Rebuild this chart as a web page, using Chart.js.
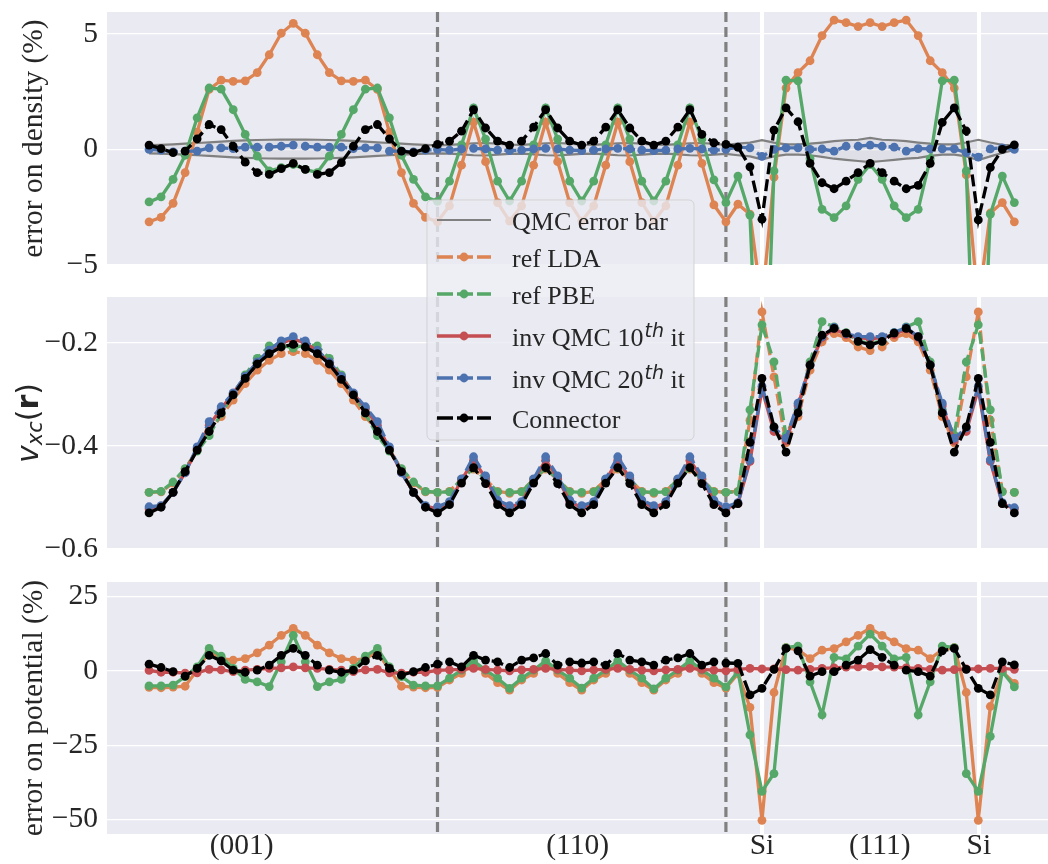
<!DOCTYPE html>
<html>
<head>
<meta charset="utf-8">
<script src="https://cdn.jsdelivr.net/npm/chart.js@4.4.1/dist/chart.umd.min.js"></script>
<style>
  html, body { margin: 0; padding: 0; background: #fff; overflow: hidden; }
  #wrap { position: relative; width: 1048px; height: 864px; }
  #wrap canvas { position: absolute; left: 0; top: 0; width: 1048px; height: 864px; }
</style>
</head>
<body>
<div id="wrap">
  <canvas id="density" width="1048" height="864"></canvas>
  <canvas id="potential" width="1048" height="864"></canvas>
  <canvas id="vxc" width="1048" height="864"></canvas>
</div>
<script>
// sample index along the path (001) -> (110) -> (111)
const pathIndex = Array.from({ length: 73 }, (_, i) => i);
const segmentEdges = [24, 48];

const xTickPos = [7.7, 35.66, 51.0, 60.8, 69.05];
const xTickLabels = ['(001)', '(110)', 'Si', '(111)', 'Si'];
const siTickPos = [51.0, 69.05];

const densTicks = [5, 0, -5];
const vxcTicks = [-0.2, -0.4, -0.6];
const potTicks = [25, 0, -25, -50];

// error on density (%)
const qmcUpper = [
  0.19, 0.20, 0.22, 0.25, 0.28, 0.31, 0.34, 0.37, 0.39, 0.41, 0.42, 0.43, 0.43, 0.43, 0.42, 0.41, 0.39, 0.37, 0.34, 0.31, 0.28, 0.25, 0.22, 0.20, 0.18,
  0.20, 0.23, 0.27, 0.28, 0.25, 0.21, 0.20, 0.23, 0.27, 0.28, 0.25, 0.21, 0.20, 0.23, 0.27, 0.28, 0.25, 0.21, 0.20, 0.23, 0.27, 0.28, 0.24, 0.20,
  0.25, 0.30, 0.40, 0.30, 0.22, 0.22, 0.25, 0.30, 0.36, 0.40, 0.42, 0.50, 0.42, 0.40, 0.36, 0.30, 0.25, 0.22, 0.22, 0.30, 0.42, 0.30, 0.20, 0.18
];
const qmcLower = [
  -0.17, -0.18, -0.20, -0.22, -0.25, -0.28, -0.31, -0.34, -0.36, -0.38, -0.39, -0.40, -0.40, -0.40, -0.39, -0.38, -0.36, -0.34, -0.31, -0.28, -0.25, -0.22, -0.20, -0.18, -0.17,
  -0.18, -0.21, -0.25, -0.26, -0.22, -0.19, -0.18, -0.21, -0.25, -0.26, -0.22, -0.19, -0.18, -0.21, -0.25, -0.26, -0.22, -0.19, -0.18, -0.21, -0.25, -0.26, -0.22, -0.19,
  -0.25, -0.30, -0.43, -0.30, -0.22, -0.22, -0.25, -0.32, -0.40, -0.45, -0.50, -0.55, -0.50, -0.45, -0.40, -0.36, -0.28, -0.22, -0.22, -0.30, -0.46, -0.30, -0.15, -0.02
];
const densLDA = [
  -3.13, -2.94, -2.33, -1.00, 0.75, 2.60, 3.00, 2.95, 2.97, 3.33, 4.10, 5.03, 5.46, 5.03, 4.10, 3.33, 2.97, 2.95, 3.00, 2.60, 0.75, -1.00, -2.33, -2.94, -3.13,
  -2.44, -0.68, 1.18, -0.53, -2.30, -3.10, -2.44, -0.68, 1.18, -0.53, -2.30, -3.10, -2.44, -0.68, 1.18, -0.53, -2.30, -3.10, -2.44, -0.68, 1.18, -0.60, -2.40, -3.13,
  -2.37, -2.80, -6.70, -1.20, 2.66, 3.33, 3.84, 4.93, 5.60, 5.49, 5.32, 5.49, 5.32, 5.49, 5.60, 4.93, 3.84, 3.33, 2.66, -1.10, -6.70, -2.75, -2.30, -3.13
];
const densPBE = [
  -2.27, -2.05, -1.29, -0.25, 1.37, 2.66, 2.61, 1.72, 0.65, -0.29, -0.93, -0.79, -0.65, -0.86, -1.00, -0.29, 0.65, 1.72, 2.61, 2.66, 1.37, -0.25, -1.29, -2.05, -2.25,
  -1.37, 0.20, 1.80, 0.45, -1.37, -2.23, -1.37, 0.20, 1.80, 0.45, -1.37, -2.23, -1.37, 0.20, 1.80, 0.45, -1.37, -2.23, -1.37, 0.20, 1.80, 0.45, -1.32, -2.30,
  -1.15, -2.84, -15.0, -0.93, 3.00, 2.97, -0.40, -2.59, -2.95, -2.44, -1.29, -0.65, -1.29, -2.44, -2.95, -2.59, -0.40, 2.97, 3.00, -0.93, -15.0, -2.80, -1.15, -2.30
];
const densInv20 = [
  0.00, -0.03, -0.10, -0.07, -0.07, 0.07, 0.07, 0.04, 0.10, 0.10, 0.10, 0.14, 0.19, 0.14, 0.10, 0.10, 0.10, 0.04, 0.07, 0.07, -0.07, -0.07, -0.10, -0.03, 0.00,
  -0.03, 0.02, 0.05, 0.02, -0.03, -0.05, -0.03, 0.02, 0.05, 0.02, -0.03, -0.05, -0.03, 0.02, 0.05, 0.02, -0.03, -0.05, -0.03, 0.02, 0.05, 0.02, -0.03, 0.00,
  0.10, 0.07, -0.30, 0.00, 0.07, 0.07, 0.00, 0.02, -0.07, 0.14, 0.14, 0.19, 0.14, 0.10, -0.07, 0.04, 0.03, 0.03, 0.03, -0.14, -0.33, 0.03, 0.07, 0.00
];
const densConn = [
  0.19, 0.04, -0.14, -0.07, 0.46, 1.08, 0.86, 0.14, -0.55, -1.00, -1.08, -0.83, -0.60, -0.86, -1.08, -1.00, -0.57, 0.14, 0.86, 1.08, 0.46, -0.07, -0.14, 0.04, 0.22,
  0.36, 0.79, 1.72, 0.93, 0.36, 0.19, 0.36, 0.97, 1.72, 0.93, 0.36, 0.19, 0.36, 0.97, 1.72, 0.93, 0.36, 0.19, 0.36, 0.97, 1.72, 0.65, 0.29, 0.22,
  0.10, -0.75, -3.02, 0.84, 1.80, 1.20, -0.60, -1.44, -1.70, -1.37, -1.00, -0.60, -1.00, -1.37, -1.70, -1.55, -0.60, 1.17, 1.80, 0.80, -3.05, -0.78, 0.00, 0.20
];

// v_xc(r)
const vxcLDA = [
  -0.490, -0.489, -0.472, -0.445, -0.408, -0.370, -0.343, -0.311, -0.279, -0.253, -0.234, -0.221, -0.217, -0.221, -0.234, -0.253, -0.279, -0.311, -0.343, -0.370, -0.408, -0.445, -0.472, -0.489, -0.490,
  -0.488, -0.465, -0.445, -0.465, -0.488, -0.492, -0.488, -0.465, -0.445, -0.465, -0.488, -0.492, -0.488, -0.465, -0.445, -0.465, -0.488, -0.492, -0.488, -0.465, -0.445, -0.465, -0.488, -0.490,
  -0.488, -0.350, -0.140, -0.266, -0.394, -0.343, -0.253, -0.198, -0.182, -0.190, -0.208, -0.215, -0.208, -0.190, -0.182, -0.198, -0.253, -0.343, -0.394, -0.266, -0.140, -0.350, -0.488, -0.490
];
const vxcPBE = [
  -0.490, -0.488, -0.470, -0.444, -0.410, -0.380, -0.337, -0.300, -0.262, -0.230, -0.206, -0.204, -0.210, -0.204, -0.206, -0.230, -0.262, -0.300, -0.337, -0.380, -0.410, -0.444, -0.470, -0.488, -0.490,
  -0.489, -0.465, -0.443, -0.465, -0.489, -0.490, -0.489, -0.465, -0.443, -0.465, -0.489, -0.490, -0.489, -0.465, -0.443, -0.465, -0.489, -0.490, -0.489, -0.465, -0.443, -0.465, -0.489, -0.490,
  -0.489, -0.330, -0.165, -0.237, -0.379, -0.330, -0.237, -0.159, -0.169, -0.180, -0.197, -0.200, -0.197, -0.180, -0.169, -0.159, -0.237, -0.330, -0.379, -0.237, -0.165, -0.330, -0.489, -0.490
];
const vxcInv10 = [
  -0.522, -0.517, -0.490, -0.452, -0.405, -0.360, -0.328, -0.298, -0.266, -0.238, -0.216, -0.200, -0.193, -0.200, -0.216, -0.238, -0.266, -0.298, -0.328, -0.360, -0.405, -0.452, -0.490, -0.517, -0.522,
  -0.510, -0.466, -0.428, -0.462, -0.508, -0.520, -0.510, -0.466, -0.428, -0.462, -0.508, -0.520, -0.510, -0.466, -0.428, -0.462, -0.508, -0.520, -0.510, -0.466, -0.428, -0.462, -0.508, -0.522,
  -0.512, -0.430, -0.290, -0.372, -0.390, -0.322, -0.243, -0.190, -0.173, -0.184, -0.190, -0.192, -0.190, -0.184, -0.173, -0.190, -0.243, -0.322, -0.390, -0.372, -0.290, -0.430, -0.512, -0.522
];
const vxcInv20 = [
  -0.518, -0.516, -0.490, -0.452, -0.402, -0.353, -0.324, -0.297, -0.265, -0.237, -0.214, -0.196, -0.188, -0.196, -0.214, -0.237, -0.265, -0.297, -0.324, -0.353, -0.402, -0.452, -0.490, -0.516, -0.518,
  -0.508, -0.464, -0.421, -0.458, -0.505, -0.516, -0.508, -0.464, -0.421, -0.458, -0.505, -0.516, -0.508, -0.464, -0.421, -0.458, -0.505, -0.516, -0.508, -0.464, -0.421, -0.458, -0.505, -0.518,
  -0.510, -0.427, -0.284, -0.365, -0.385, -0.317, -0.243, -0.188, -0.170, -0.182, -0.188, -0.188, -0.188, -0.180, -0.170, -0.188, -0.243, -0.317, -0.385, -0.365, -0.284, -0.427, -0.510, -0.520
];
const vxcConn = [
  -0.530, -0.519, -0.490, -0.450, -0.408, -0.372, -0.336, -0.301, -0.269, -0.241, -0.221, -0.208, -0.203, -0.208, -0.221, -0.241, -0.271, -0.301, -0.336, -0.372, -0.408, -0.450, -0.490, -0.519, -0.530,
  -0.514, -0.472, -0.442, -0.473, -0.514, -0.530, -0.514, -0.472, -0.442, -0.473, -0.514, -0.530, -0.514, -0.472, -0.442, -0.473, -0.514, -0.530, -0.514, -0.472, -0.442, -0.473, -0.514, -0.530,
  -0.512, -0.393, -0.269, -0.363, -0.412, -0.336, -0.243, -0.185, -0.172, -0.181, -0.197, -0.204, -0.197, -0.181, -0.172, -0.188, -0.243, -0.336, -0.412, -0.363, -0.269, -0.393, -0.512, -0.530
];

// error on potential (%)
const potLDA = [
  -5.6, -5.7, -5.5, -5.2, 0.2, 6.4, 4.1, 3.6, 4.1, 6.0, 8.6, 11.9, 14.2, 11.9, 8.6, 6.0, 4.1, 3.6, 4.1, 6.4, 0.2, -5.2, -5.5, -5.7, -5.6,
  -3.1, -0.9, 2.5, -0.9, -4.0, -6.5, -3.1, -0.9, 2.5, -0.9, -4.0, -6.5, -3.1, -0.9, 2.5, -0.9, -4.0, -6.5, -3.1, -0.9, 2.5, -0.9, -4.0, -5.8,
  -1.0, -12.3, -50.2, -7.3, 7.8, 7.0, 4.1, 6.9, 7.4, 9.7, 11.9, 14.2, 11.9, 9.7, 7.4, 6.9, 4.1, 7.0, 7.8, -7.3, -50.2, -12.0, -0.3, -4.2
];
const potPBE = [
  -5.1, -5.1, -4.8, -2.0, 1.3, 7.5, 4.9, 0.8, -2.9, -3.7, -5.3, 3.0, 11.9, 3.0, -5.3, -3.7, -2.9, 0.8, 4.9, 7.5, 1.3, -2.0, -4.8, -5.1, -5.1,
  -2.5, 0.2, 3.3, 0.2, -2.5, -5.9, -2.5, 0.2, 3.3, 0.2, -2.5, -5.8, -2.5, 0.2, 3.3, 0.2, -2.5, -6.1, -2.5, 0.2, 3.3, 0.2, -2.5, -5.4,
  -0.3, -21.5, -40.5, -34.5, 7.8, 8.3, -3.7, -14.8, 4.5, 4.0, 8.3, 12.3, 8.3, 4.0, 4.5, -14.8, -3.7, 8.3, 7.8, -34.5, -40.5, -22.0, -0.3, -5.4
];
const potInv10 = [
  0.1, -0.5, -0.5, -0.8, -0.7, 0.5, 0.3, -0.3, 0.2, 0.5, 0.8, 1.0, 1.3, 1.0, 0.8, 0.5, 0.2, -0.3, 0.3, 0.5, -0.7, -0.8, -0.5, -0.5, 0.1,
  0.3, 0.5, 0.8, 0.5, 0.2, 0.0, 0.3, 0.5, 0.8, 0.5, 0.2, 0.0, 0.3, 0.5, 0.8, 0.5, 0.2, 0.0, 0.3, 0.5, 0.8, 0.5, 0.2, 0.0,
  0.5, 0.8, 0.6, 0.6, 0.4, 0.2, 0.5, 0.8, 1.0, 1.2, 1.3, 1.5, 1.3, 1.2, 1.0, 0.8, 0.5, 0.2, 0.4, 0.6, 0.6, 0.8, 0.8, 0.5
];
const potConn = [
  2.2, 1.1, -0.3, -1.8, 0.8, 5.2, 3.3, 0.2, -0.5, 0.2, 1.9, 5.2, 7.5, 5.2, 1.9, 0.2, -0.5, 0.2, 3.3, 5.2, 0.8, -1.5, -0.3, 1.1, 2.2,
  3.0, 1.3, 5.2, 3.6, 3.0, 1.1, 3.6, 4.3, 5.8, 1.9, 3.0, 2.6, 3.0, 1.9, 5.8, 3.6, 3.0, 1.9, 3.6, 4.3, 5.8, 1.9, 3.0, 2.6,
  2.5, -8.1, -5.9, 0.5, 7.5, 6.7, -1.8, -0.3, -0.3, 1.9, 3.6, 7.1, 4.5, 1.9, 0.2, -0.3, -1.8, 6.7, 7.5, 0.5, -5.9, -8.1, 3.0, 2.0
];

const COLORS = { qmc: '#808080', lda: '#DD8452', pbe: '#55A868', inv10: '#C44E52', inv20: '#4C72B0', conn: '#000000' };
const SERIF = '"Liberation Serif", "DejaVu Serif", serif';
const TEXT = '#262626';
const DASH = [12, 5];

function series(values, color, dashed, order, extra) {
  return Object.assign({
    data: values.map((v, i) => ({ x: pathIndex[i], y: v })),
    borderColor: color,
    backgroundColor: color,
    pointBackgroundColor: color,
    borderWidth: 3.3,
    borderDash: dashed ? DASH : [],
    pointRadius: 4.4,
    pointBorderWidth: 0,
    pointHoverRadius: 0,
    tension: 0,
    fill: false,
    order: order
  }, extra || {});
}

const panelBg = {
  id: 'panelBg',
  beforeDraw(chart) {
    const { ctx, chartArea: a } = chart;
    ctx.save();
    ctx.fillStyle = '#EAEAF2';
    ctx.fillRect(a.left, a.top, a.right - a.left, a.bottom - a.top);
    ctx.restore();
  }
};

const segLines = {
  id: 'segLines',
  beforeDatasetsDraw(chart) {
    const { ctx, chartArea: a, scales } = chart;
    ctx.save();
    ctx.strokeStyle = '#808080';
    ctx.lineWidth = 3.2;
    ctx.setLineDash([10, 5]);
    segmentEdges.forEach(v => {
      const px = scales.x.getPixelForValue(v);
      ctx.beginPath();
      ctx.moveTo(px, a.top);
      ctx.lineTo(px, a.bottom);
      ctx.stroke();
    });
    ctx.restore();
  }
};

function yTitle(parts, baseX) {
  return {
    id: 'yTitle',
    afterDraw(chart) {
      const { ctx, chartArea: a } = chart;
      ctx.save();
      ctx.translate(baseX, (a.top + a.bottom) / 2);
      ctx.rotate(-Math.PI / 2);
      ctx.fillStyle = TEXT;
      ctx.textBaseline = 'alphabetic';
      ctx.textAlign = 'left';
      const widths = parts.map(p => { ctx.font = p.font; return ctx.measureText(p.t).width; });
      let cur = -widths.reduce((s, w) => s + w, 0) / 2;
      parts.forEach((p, i) => {
        ctx.font = p.font;
        ctx.fillText(p.t, cur, p.dy || 0);
        cur += widths[i];
      });
      ctx.restore();
    }
  };
}

// legend shared by the three panels
const legendItems = [
  { text: 'QMC error bar', color: COLORS.qmc, width: 2, dash: [], marker: false },
  { text: 'ref LDA', color: COLORS.lda, width: 3.5, dash: [16, 4], marker: true },
  { text: 'ref PBE', color: COLORS.pbe, width: 3.5, dash: [16, 4], marker: true },
  { text: 'inv QMC 10', sup: 'th', tail: ' it', color: COLORS.inv10, width: 3.5, dash: [], marker: true },
  { text: 'inv QMC 20', sup: 'th', tail: ' it', color: COLORS.inv20, width: 3.5, dash: [16, 4], marker: true },
  { text: 'Connector', color: COLORS.conn, width: 3.5, dash: [16, 4], marker: true }
];

const sharedLegend = {
  id: 'sharedLegend',
  afterDraw(chart) {
    const ctx = chart.ctx;
    const bx = 427, by = 200, bw = 267, bh = 240;
    const rows = [20, 57, 94, 136, 178, 218];
    ctx.save();
    ctx.beginPath();
    ctx.roundRect(bx, by, bw, bh, 5);
    ctx.fillStyle = 'rgba(234,234,242,0.8)';
    ctx.fill();
    ctx.strokeStyle = 'rgba(204,204,204,0.8)';
    ctx.lineWidth = 1;
    ctx.stroke();
    legendItems.forEach((it, i) => {
      const y = by + rows[i];
      ctx.strokeStyle = it.color;
      ctx.lineWidth = it.width;
      ctx.setLineDash(it.dash);
      ctx.beginPath();
      ctx.moveTo(437, y);
      ctx.lineTo(491, y);
      ctx.stroke();
      ctx.setLineDash([]);
      if (it.marker) {
        ctx.fillStyle = it.color;
        ctx.beginPath();
        ctx.arc(464, y, 4.4, 0, Math.PI * 2);
        ctx.fill();
      }
      ctx.fillStyle = TEXT;
      ctx.textAlign = 'left';
      ctx.textBaseline = 'alphabetic';
      let tx = 512;
      const base = y + 9.5;
      ctx.font = '26px ' + SERIF;
      ctx.fillText(it.text, tx, base);
      tx += ctx.measureText(it.text).width;
      if (it.sup) {
        ctx.font = 'italic 19px "DejaVu Sans"';
        ctx.fillText(it.sup, tx + 1, base - 9);
        tx += ctx.measureText(it.sup).width + 1;
        ctx.font = '26px ' + SERIF;
        ctx.fillText(it.tail, tx, base);
      }
    });
    ctx.restore();
  }
};

function makePanel(id, box, yMin, yMax, yTicks, showX, datasets, extraPlugins) {
  return new Chart(document.getElementById(id), {
    type: 'line',
    data: { datasets: datasets },
    options: {
      responsive: false,
      animation: false,
      events: [],
      layout: { autoPadding: false, padding: { top: box.top, left: 0, right: 0, bottom: 0 } },
      plugins: { legend: { display: false }, tooltip: { enabled: false } },
      scales: {
        x: {
          type: 'linear',
          min: -3.5,
          max: 74.8,
          afterBuildTicks: s => { s.ticks = xTickPos.map(v => ({ value: v })); },
          afterFit: s => { s.height = 864 - box.bottom; s.paddingLeft = 0; s.paddingRight = 0; },
          ticks: {
            display: showX,
            autoSkip: false,
            maxRotation: 0,
            padding: -5,
            color: TEXT,
            font: { family: SERIF, size: 29.5 },
            callback: (v, i) => xTickLabels[i]
          },
          grid: {
            drawTicks: false,
            lineWidth: 4,
            color: c => (c.tick && siTickPos.includes(c.tick.value)) ? '#ffffff' : 'rgba(0,0,0,0)'
          },
          border: { display: false }
        },
        y: {
          min: yMin,
          max: yMax,
          afterBuildTicks: s => { s.ticks = yTicks.map(v => ({ value: v })); },
          afterFit: s => { s.width = 107; s.paddingTop = 0; s.paddingBottom = 0; },
          ticks: {
            padding: 9,
            color: TEXT,
            font: { family: SERIF, size: 29.5 },
            callback: v => (v < 0 ? '\u2212' : '') + Math.abs(v)
          },
          grid: { drawTicks: false, color: '#ffffff', lineWidth: 1.2 },
          border: { display: false }
        }
      }
    },
    plugins: [panelBg, segLines].concat(extraPlugins)
  });
}

const serifLabel = '29.5px ' + SERIF;

makePanel('density', { top: 12, bottom: 265 }, -5, 5.95, densTicks, false, [
  series(qmcUpper, COLORS.qmc, false, 6, { borderWidth: 2.2, pointRadius: 0 }),
  series(qmcLower, COLORS.qmc, false, 6, { borderWidth: 2.2, pointRadius: 0, fill: '-1', backgroundColor: 'rgba(150,150,160,0.12)' }),
  series(densLDA, COLORS.lda, false, 5),
  series(densPBE, COLORS.pbe, false, 4),
  series(densInv20, COLORS.inv20, true, 2),
  series(densConn, COLORS.conn, true, 1)
], [yTitle([{ t: 'error on density (%)', font: serifLabel }], 42)]);

makePanel('potential', { top: 582, bottom: 834 }, -54.8, 29.8, potTicks, true, [
  series(potLDA, COLORS.lda, false, 5),
  series(potPBE, COLORS.pbe, false, 4),
  series(potInv10, COLORS.inv10, false, 3),
  series(potConn, COLORS.conn, true, 1)
], [yTitle([{ t: 'error on potential (%)', font: serifLabel }], 42)]);

makePanel('vxc', { top: 297, bottom: 549 }, -0.6, -0.111, vxcTicks, false, [
  series(vxcLDA, COLORS.lda, true, 5),
  series(vxcPBE, COLORS.pbe, true, 4),
  series(vxcInv10, COLORS.inv10, false, 3),
  series(vxcInv20, COLORS.inv20, true, 2),
  series(vxcConn, COLORS.conn, true, 1)
], [yTitle([
  { t: 'v', font: 'italic 30px "DejaVu Sans"' },
  { t: 'xc', font: 'italic 21px "DejaVu Sans"', dy: 4.5 },
  { t: '(', font: '30px "DejaVu Sans"' },
  { t: 'r', font: 'bold 30px "DejaVu Sans"' },
  { t: ')', font: '30px "DejaVu Sans"' }
], 37.5), sharedLegend]);
</script>
</body>
</html>
